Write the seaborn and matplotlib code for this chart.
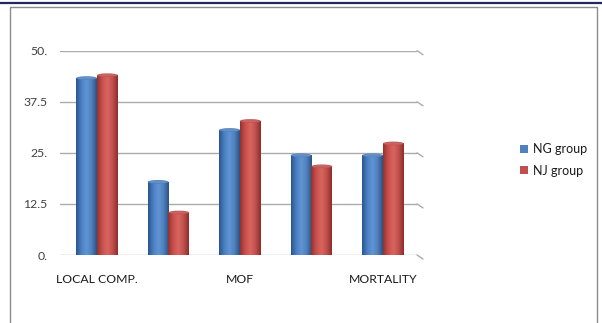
import numpy as np
import pandas as pd
import matplotlib
matplotlib.use("Agg")
import matplotlib.pyplot as plt
import seaborn as sns
from matplotlib.lines import Line2D
from matplotlib.patches import Rectangle, Ellipse, Patch
from matplotlib.colors import LinearSegmentedColormap
from matplotlib.transforms import IdentityTransform

# ---- data ----
categories = ["LOCAL COMP.", "CAT 2", "MOF", "CAT 4", "MORTALITY"]
tick_labels = ["LOCAL COMP.", "", "MOF", "", "MORTALITY"]
series_names = ["NG group", "NJ group"]
ng_values = [43.3, 17.9, 30.6, 24.4, 24.4]
nj_values = [44.0, 10.4, 32.8, 21.7, 27.3]
y_ticks = [0, 12.5, 25, 37.5, 50]
y_tick_labels = ["0.", "12.5", "25.", "37.5", "50."]

colors = {"NG group": "#4F81BD", "NJ group": "#C0504D"}

df = pd.DataFrame({
    "category": categories * 2,
    "series": [series_names[0]] * len(categories) + [series_names[1]] * len(categories),
    "value": ng_values + nj_values,
})

sns.set_theme(style="white")
plt.rcParams["font.family"] = ["Lato", "DejaVu Sans"]

W, H = 602, 323
fig = plt.figure(figsize=(W / 100, H / 100), dpi=100)
ax = fig.add_axes([60 / W, 68 / H, (417 - 60) / W, (255 - 50.7) / H])

sns.barplot(data=df, x="category", y="value", hue="series", order=categories,
            hue_order=series_names, palette=colors, width=0.58, gap=0,
            legend=False, ax=ax, zorder=3, linewidth=0)

ax.set_ylim(0, 50)
ax.set_xlim(-0.517, 4.476)
ax.set_yticks(y_ticks)
ax.set_yticklabels(y_tick_labels)
ax.set_xticks(range(len(categories)))
ax.set_xticklabels(tick_labels)
ax.set_xlabel("")
ax.set_ylabel("")
for s in ax.spines.values():
    s.set_visible(False)
ax.tick_params(axis="y", length=0, pad=9, labelsize=8.8, labelcolor="#404040")
ax.tick_params(axis="x", length=0, pad=14, labelsize=8.8, labelcolor="#1a1a1a")
ax.yaxis.grid(True, color="#ABABAB", linewidth=1.0, zorder=0)
ax.set_axisbelow(True)

# cylinder shading on each bar
cmaps = {
    "#4F81BD": LinearSegmentedColormap.from_list("b", ["#2A558C", "#4A80C4", "#6194D3", "#4F81BD", "#2B5283"]),
    "#C0504D": LinearSegmentedColormap.from_list("r", ["#923230", "#C9504C", "#D9655F", "#C0504D", "#8C2E2B"]),
}
grad = np.linspace(0, 1, 64).reshape(1, -1)
bars = list(ax.patches)
for i, p in enumerate(bars):
    col = colors[series_names[i // len(categories)]]
    x0, w, h = p.get_x(), p.get_width(), p.get_height()
    im = ax.imshow(grad, extent=(x0, x0 + w, 0, h), aspect="auto",
                   cmap=cmaps[col], zorder=4, origin="lower")
    im.set_clip_path(p)
    top = Ellipse((x0 + w / 2, h), w, 0.9, facecolor=col, edgecolor="none",
                  zorder=5, alpha=1.0)
    ax.add_patch(top)
    ax.add_patch(Ellipse((x0 + w / 2, h), w * 0.9, 0.6, facecolor="white",
                         alpha=0.12, edgecolor="none", zorder=6))
ax.set_ylim(0, 50)
ax.set_xlim(-0.517, 4.476)

# 3D wall ends of gridlines
fig.canvas.draw()
for t in y_ticks:
    xd, yd = ax.transData.transform((ax.get_xlim()[1], t))
    fig.add_artist(Line2D([xd, xd + 6], [yd, yd - 4], color="#ABABAB",
                          linewidth=1.0, transform=IdentityTransform()))

# legend
handles = [Patch(facecolor=colors[s], edgecolor="none") for s in series_names]
fig.legend(handles, series_names, loc="upper left",
           bbox_to_anchor=(509 / W, 1 - 132 / H), frameon=False,
           fontsize=9, handlelength=0.6, handleheight=0.6, handletextpad=0.45,
           labelspacing=0.75, labelcolor="#1a1a1a")

# frame and top line
fig.add_artist(Rectangle((10 / W, -0.05), (597 - 10) / W, 1.05 - 7 / H,
                         transform=fig.transFigure, fill=False,
                         edgecolor="#8C8C8C", linewidth=1.0))
fig.add_artist(Line2D([0, 1], [1 - 3 / H, 1 - 3 / H], transform=fig.transFigure,
                      color="#1F2A5A", linewidth=1.6))

fig.savefig("out.png", dpi=100)
